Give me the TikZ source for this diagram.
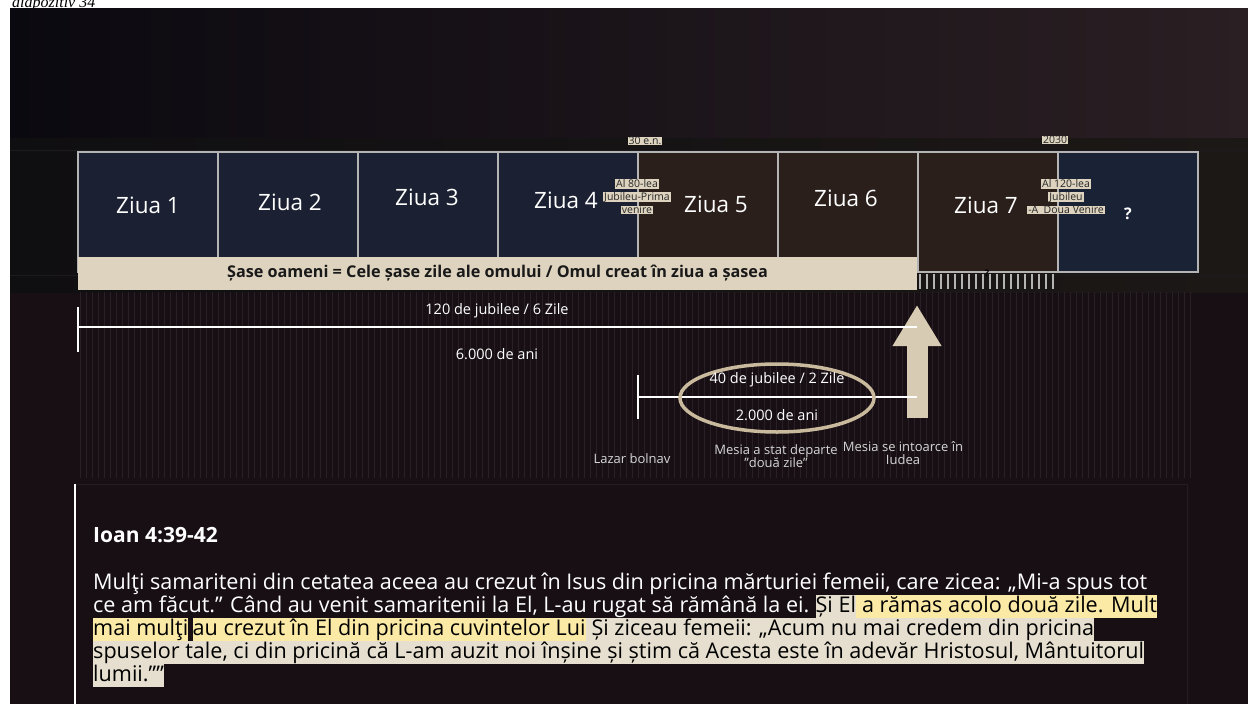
\documentclass[tikz,border=0pt]{standalone}
\usepackage{fontspec}
\setmainfont{Open Sans}
\newfontfamily\slidefont{Liberation Serif}
\usetikzlibrary{positioning,shapes.geometric,arrows.meta}

\definecolor{panelbg}{HTML}{170F13}
\definecolor{topleft}{HTML}{0B0910}
\definecolor{topright}{HTML}{2A1F23}
\definecolor{bandleft}{HTML}{0F0E11}
\definecolor{bandright}{HTML}{1C1816}
\definecolor{bandline}{HTML}{1C1A1E}
\definecolor{frameline}{HTML}{241C22}
\definecolor{stripe}{HTML}{282026}
\definecolor{boxline}{HTML}{B4B4B4}
\definecolor{navy}{HTML}{1B2132}
\definecolor{navyq}{HTML}{1A2335}
\definecolor{brownday}{HTML}{2A1F1B}
\definecolor{beige}{HTML}{DDD3BF}
\definecolor{arrowbeige}{HTML}{D8CBB3}
\definecolor{ringbeige}{HTML}{C9BA9D}
\definecolor{hlbeige}{HTML}{E6DFCF}
\definecolor{hlyellow}{HTML}{FBE9A6}
\definecolor{softgray}{HTML}{D6D6D6}

\tikzset{
  daybox/.style={draw=boxline, line width=1.5pt, minimum width=140pt, minimum height=120pt, inner sep=0pt, outer sep=0pt},
  daytxt/.style={text=white, font=\fontsize{22.5}{25}\selectfont},
  tag/.style={fill=beige, text=black!85, inner xsep=1pt, inner ysep=0.5pt, font=\fontsize{10.5}{11}\selectfont},
  tl/.style={draw=white, line width=2pt},
  midtxt/.style={text=white, font=\fontsize{14.5}{15}\selectfont},
  note/.style={text=softgray, align=center, font=\fontsize{13}{13.5}\selectfont},
  vtext/.style={text=white, anchor=base west, inner xsep=0pt, inner ysep=1pt, text height=16.5pt, text depth=5pt, font=\fontsize{21.6}{23}\selectfont},
  hlb/.style={vtext, fill=hlbeige, text=black},
  hly/.style={vtext, fill=hlyellow, text=black},
}

\begin{document}
\begin{tikzpicture}[x=1pt, y=-1pt]
  \useasboundingbox (0,0) rectangle (1248,704);
  \fill[white] (0,0) rectangle (1248,704);

  % slide caption (cut off above the panel)
  \node[anchor=base west, inner sep=0pt, font=\slidefont\itshape\fontsize{16}{18}\selectfont] (cap) at (12,7) {diapozitiv 34};

  % background panel
  \fill[panelbg] (10,8) rectangle (1248,704);
  \shade[left color=topleft, right color=topright] (10,8) rectangle (1248,138);
  \shade[left color=bandleft, right color=bandright] (10,138) rectangle (1248,292);
  \draw[bandline, line width=1pt] (10,150) -- (1248,150);
  \draw[bandline, line width=1pt] (10,275) -- (1248,275);
  \foreach \x in {80,86,...,1190}
    \draw[stripe, line width=0.9pt] (\x,292) -- (\x,478);

  % days
  \node[daybox, fill=navy] (d1) at (148,212) {};
  \node[daybox, fill=navy, right=0pt of d1] (d2) {};
  \node[daybox, fill=navy, right=0pt of d2] (d3) {};
  \node[daybox, fill=navy, right=0pt of d3] (d4) {};
  \node[daybox, fill=brownday, right=0pt of d4] (d5) {};
  \node[daybox, fill=brownday, right=0pt of d5] (d6) {};
  \node[daybox, fill=brownday, right=0pt of d6] (d7) {};
  \node[daybox, fill=navyq, right=0pt of d7] (dq) {};

  \node[daytxt] (z1) at (148,205) {Ziua 1};
  \node[daytxt] (z2) at (290,202) {Ziua 2};
  \node[daytxt] (z3) at (427,197) {Ziua 3};
  \node[daytxt] (z4) at (566,200) {Ziua 4};
  \node[daytxt] (z5) at (716,204) {Ziua 5};
  \node[daytxt] (z6) at (846,198) {Ziua 6};
  \node[daytxt] (z7) at (986,205) {Ziua 7};
  \node[text=white, font=\bfseries\fontsize{16}{18}\selectfont] (qm) at (1128,214) {?};

  % ticks under day 7
  \foreach \x in {920,927,...,1057}
    \draw[boxline, line width=1.3pt] (\x,274) -- (\x,289);
  \node[text=black, inner sep=0pt, font=\bfseries\fontsize{9}{9}\selectfont] (q7) at (987,273) {?};

  % dates and jubilees
  \node[tag] (y30) at (645,141) {30 e.n.};
  \node[tag] (y2030) at (1055,140) {2030};
  \node[tag] (j80a) at (637,184) {Al 80-lea};
  \node[tag] (j80b) at (637,197) {Jubileu-Prima};
  \node[tag] (j80c) at (637,210) {venire};
  \node[tag] (j120a) at (1066,184) {Al 120-lea};
  \node[tag] (j120b) at (1066,197) {Jubileu};
  \node[tag] (j120c) at (1066,210) {-A\ \ Doua Venire};

  % six days bar
  \node[fill=beige, minimum width=839pt, minimum height=33pt, inner sep=0pt, text=black!90,
        font=\bfseries\fontsize{16.2}{18}\selectfont] (bar) at (497.5,273.5)
        {Șase oameni = Cele șase zile ale omului / Omul creat în ziua a șasea};

  % big arrow
  \coordinate (arrbase) at (917,418);
  \coordinate (arrtip) at (917,305);
  \draw[arrowbeige, line width=21pt, -{Triangle[width=46pt,length=41pt]}] (arrbase) -- (arrtip);

  % 120 jubilees
  \coordinate (t1top) at (78,307);
  \coordinate (t1bot) at (78,352);
  \coordinate (t1mid) at (78,327);
  \draw[tl] (t1top) -- (t1bot);
  \draw[tl] (t1mid) -- (t1mid -| arrbase);
  \node[midtxt] (j120) at (497,311) {120 de jubilee / 6 Zile};
  \node[midtxt] (ani6) at (497,354) {6.000 de ani};

  % 40 jubilees
  \coordinate (t2top) at (638,375);
  \coordinate (t2bot) at (638,419);
  \coordinate (t2mid) at (638,397);
  \draw[tl] (t2top) -- (t2bot);
  \draw[tl] (t2mid) -- (t2mid -| arrbase);
  \node[ellipse, draw=ringbeige, line width=3.5pt, minimum width=194pt, minimum height=68pt] (ring) at (777,398) {};
  \node[midtxt] (j40) at (777,380) {40 de jubilee / 2 Zile};
  \node[midtxt] (ani2) at (777,415) {2.000 de ani};

  % notes
  \node[note] (lazar) at (632,459) {Lazar bolnav};
  \node[note] (stat) at (776,456) {Mesia a stat departe\\"două zile"};
  \node[note] (intoarce) at (903,453) {Mesia se intoarce în\\Iudea};

  % verse frame
  \draw[frameline, line width=1pt] (75,484) -- (1187,484) -- (1187,704);
  \draw[white, line width=2.5pt] (75,484) -- (75,704);
  \node[vtext, font=\bfseries\fontsize{21}{23}\selectfont] (ref) at (93,542) {Ioan 4:39-42};

  \node[vtext] (l1) at (93,589) {Mulţi samariteni din cetatea aceea au crezut în Isus din pricina mărturiei femeii, care zicea: „Mi-a spus tot};
  \node[vtext] (l2a) at (93,612) {ce am făcut.” Când au venit samaritenii la El, L-au rugat să rămână la ei.\kern0.27em};
  \node[hlb] (l2b) at (l2a.base east) {Și El};
  \node[hly] (l2c) at (l2b.base east) {\ a rămas acolo două zile. Mult};
  \node[hly] (l3a) at (93,635) {mai mulţi};
  \node[hly, xshift=4pt] (l3b) at (l3a.base east) {au crezut în El din pricina cuvintelor Lui};
  \node[hlb] (l3c) at (l3b.base east) {\ Și ziceau femeii: „Acum nu mai credem din pricina};
  \node[hlb] (l4) at (93,658) {spuselor tale, ci din pricină că L-am auzit noi înșine și știm că Acesta este în adevăr Hristosul, Mântuitorul};
  \node[hlb] (l5) at (93,681) {lumii.”"};
\end{tikzpicture}
\end{document}
